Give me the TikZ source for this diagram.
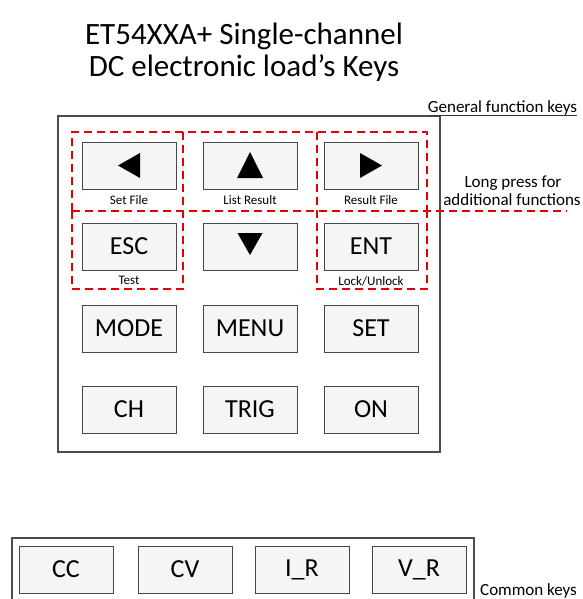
\documentclass[tikz,border=0pt]{standalone}
\usepackage{fontspec}
\setmainfont{Carlito}
\usetikzlibrary{positioning}
\usetikzlibrary{shadows}

\begin{document}
\begin{tikzpicture}[x=1pt,y=-1pt,
		key/.style={draw=gray!55!black, fill=gray!8, minimum width=94pt, minimum height=47pt, inner sep=0pt,
			font=\fontsize{26}{30}\selectfont,
			drop shadow={shadow xshift=1.2pt, shadow yshift=-1.2pt, opacity=0.3, fill=gray}},
		keylabel/.style={inner sep=0pt, font=\fontsize{13}{15}\selectfont},
		note/.style={inner sep=0pt, font=\fontsize{17}{19}\selectfont},
		panel/.style={draw=black!70, line width=1.4pt},
		hold/.style={draw=red!90!black, line width=1.8pt, dash pattern=on 8pt off 5pt}]
	\useasboundingbox (0,0) rectangle (582,599);
	\clip (0,0) rectangle (582,599);
	\fill[white] (0,0) rectangle (582,599);

	% title
	\node (titleA) [inner sep=0pt, anchor=base, font=\fontsize{31}{32}\selectfont] at (244,45) {ET54XXA+ Single-channel};
	\node (titleB) [inner sep=0pt, anchor=base, font=\fontsize{31}{32}\selectfont] at (244,77) {DC electronic load’s Keys};

	% general function keys
	\draw[panel] (58,116) rectangle (440,452);
	\node (kLeft)  [key] at (129,165.5) {};
	\node (kUp)    [key] at (250,165.5) {};
	\node (kRight) [key] at (371,165.5) {};
	\node (kEsc)   [key] at (129,246.5) {ESC};
	\node (kDown)  [key] at (250,246.5) {};
	\node (kEnt)   [key] at (371,246.5) {ENT};
	\node (kMode)  [key] at (129,328.5) {MODE};
	\node (kMenu)  [key] at (250,328.5) {MENU};
	\node (kSet)   [key] at (371,328.5) {SET};
	\node (kCh)    [key] at (129,409.5) {CH};
	\node (kTrig)  [key] at (250,409.5) {TRIG};
	\node (kOn)    [key] at (371,409.5) {ON};

	\fill ([xshift=-11pt]kLeft.center) -- ++(22,-12.5) -- ++(0,25) -- cycle;
	\fill ([xshift=11pt]kRight.center) -- ++(-22,-12.5) -- ++(0,25) -- cycle;
	\fill ([yshift=13.5pt]kUp.center) -- ++(13,26) -- ++(-26,0) -- cycle;
	\fill ([yshift=-8.5pt]kDown.center) -- ++(12.5,-22) -- ++(-25,0) -- cycle;

	\node (lSetFile) [keylabel, below=6pt of kLeft]  {Set File};
	\node (lList)    [keylabel, below=6pt of kUp]    {List Result};
	\node (lResult)  [keylabel, below=6pt of kRight] {Result File};
	\node (lTest)    [keylabel, below=6pt of kEsc]   {Test};
	\node (lLock)    [keylabel, below=6pt of kEnt]   {Lock/Unlock};

	% long press regions
	\draw[hold] (72,211) -- (72,132) -- (427,132) -- (427,211);
	\draw[hold] (72,211) -- (567,211);
	\draw[hold] (183,132) -- (183,289) -- (72,289) -- (72,211);
	\draw[hold] (317,132) -- (317,289) -- (427,289) -- (427,211);

	\node (tGeneral) [note, anchor=base] at (502.5,113) {General function keys};
	\draw[black!80, line width=0.8pt] ([yshift=-2pt]tGeneral.base west) -- ([yshift=-2pt]tGeneral.base east);
	\node (tLongA) [note, anchor=base] at (513,187) {Long press for};
	\node (tLongB) [note, anchor=base] at (512,205) {additional functions};

	% common keys
	\draw[panel] (12,538) rectangle (474,620);
	\node (kCC) [key] at (66,569.5)  {CC};
	\node (kCV) [key] at (185,569.5) {CV};
	\node (kIR) [key] at (302,569.5) {I\_R};
	\node (kVR) [key] at (419,569.5) {V\_R};
	\node (tCommon) [note, anchor=base west] at (480,595) {Common keys};
\end{tikzpicture}
\end{document}
